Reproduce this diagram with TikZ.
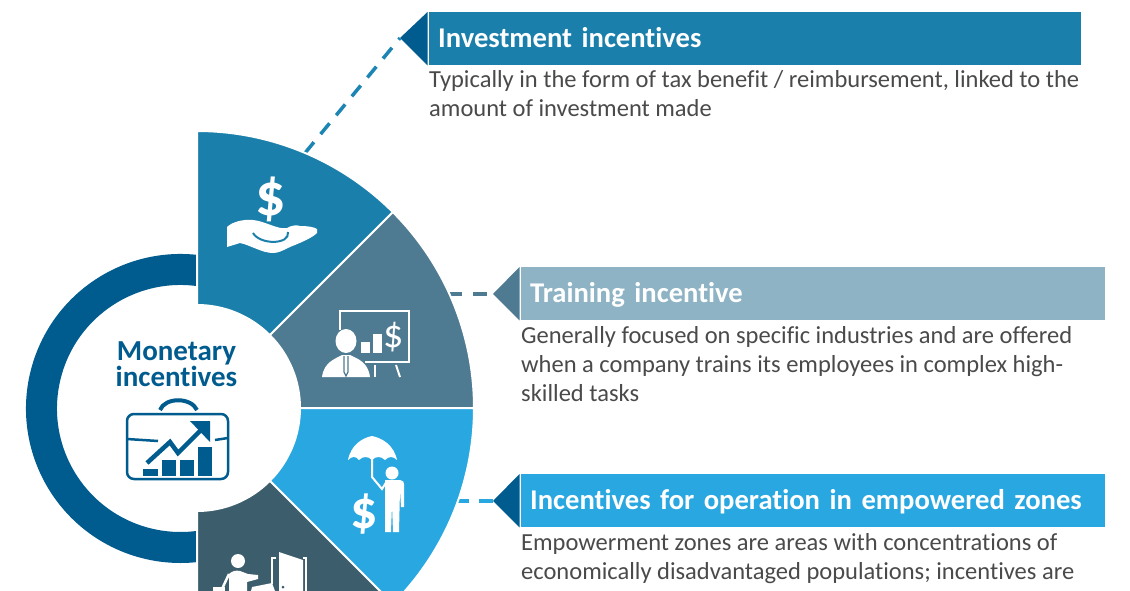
\documentclass[tikz,border=0pt]{standalone}
\usepackage{fontspec}
\setmainfont[RawFeature={-liga}]{Carlito}
\definecolor{ringblue}{HTML}{005B8F}
\definecolor{secA}{HTML}{1B7FAB}
\definecolor{secB}{HTML}{4E7B91}
\definecolor{secC}{HTML}{29A7E1}
\definecolor{secD}{HTML}{3C5D6C}
\definecolor{barB}{HTML}{8DB3C4}
\definecolor{bodygrey}{HTML}{4A4A4A}
\tikzset{
    headbar/.style={anchor=north west, text=white, font=\fontsize{28.6}{30}\selectfont\bfseries, minimum height=53, inner xsep=9, inner ysep=0, text height=18, text depth=0, text width=#1},
    bodytext/.style={anchor=north west, text=bodygrey, font=\fontsize{24.5}{29}\selectfont, align=left, inner sep=0},
    leader/.style={line width=3.5, dash pattern=on 14 off 10.5},
    iconline/.style={draw=white, line width=2, fill=none},
}
\begin{document}
\begin{tikzpicture}[x=1pt, y=-1pt]
    \useasboundingbox (0,0) rectangle (1130,591);
    \fill[white] (0,0) rectangle (1130,591);
    \clip (0,0) rectangle (1130,591);
    \coordinate (hub) at (197,408);
    % header bars
    \node[headbar=634, fill=secA] (invbar) at (429,12) {Investment incentives};
    \node[headbar=566, fill=barB] (trabar) at (521,267) {Training incentive};
    \node[headbar=566, fill=secC] (zonbar) at (521,474) {Incentives for operation in empowered zones};
    \coordinate (invtip) at (400,38);
    \coordinate (tratip) at (493,294);
    \coordinate (zontip) at (493,501);
    \coordinate (invend) at (305,153);
    \coordinate (traend) at (440,294);
    \coordinate (zonend) at (455,501);
    \fill[ringblue] ([xshift=-1.5]invbar.north west) -- ([xshift=-1.5]invbar.south west) -- (invtip) -- cycle;
    \fill[secB] ([xshift=-1.5]trabar.north west) -- ([xshift=-1.5]trabar.south west) -- (tratip) -- cycle;
    \fill[ringblue] ([xshift=-1.5]zonbar.north west) -- ([xshift=-1.5]zonbar.south west) -- (zontip) -- cycle;
    \draw[leader, secA!85!secC] (invend) -- (invtip);
    \draw[leader, secB, dash phase=18] (tratip) -- (traend);
    \draw[leader, secC] (zontip) -- (zonend);
    % body text
    \node[bodytext] (invtext) at (429,70) {Typically in the form of tax benefit / reimbursement, linked to the\\amount of investment made};
    \node[bodytext] (tratext) at (521,326) {Generally focused on specific industries and are offered\\when a company trains its employees in complex high-\\skilled tasks};
    \node[bodytext] (zontext) at (521,533) {Empowerment zones are areas with concentrations of\\economically disadvantaged populations; incentives are};
    % ring and sectors
    \draw[ringblue, line width=31] (180.5,408.5) ++(-75:139) arc [start angle=-75, end angle=-285, radius=139];
    \foreach \ang/\col in {-90/secA, -45/secB, 0/secC, 45/secD}
        \filldraw[fill=\col, draw=white, line width=2] ([shift={(\ang:103)}]hub) arc [start angle=\ang, end angle=\ang+45, radius=103] -- ([shift={(\ang+45:277)}]hub) arc [start angle=\ang+45, end angle=\ang, radius=277] -- cycle;
    % centre label
    \node[text=ringblue, font=\fontsize{29}{23}\selectfont\bfseries, align=center, inner sep=0] (hublabel) at (176.5,364) {Monetary\\incentives};
    % briefcase
    \draw[ringblue, line width=2.5, rounded corners=7] (127,414) rectangle (228,479);
    \draw[ringblue, line width=4] (160,410) .. controls (165,397) and (191,397) .. (197,410);
    \draw[ringblue, line width=2.5] (127,439) -- (158,441);
    \draw[ringblue, line width=2.5] (215,440) -- (228,438);
    \draw[ringblue, line width=4.5] (147,463) -- (170,442) -- (178,453) -- (206,425);
    \fill[ringblue] (190,421) -- (210,421) -- (210,442) -- cycle;
    \fill[ringblue] (143,469) rectangle (158,476);
    \fill[ringblue] (162,460) rectangle (176,476);
    \fill[ringblue] (180,460) rectangle (194,476);
    \fill[ringblue] (198,447) rectangle (212,476);
    % hand with coin
    \node[text=white, font=\fontsize{60}{60}\selectfont\bfseries, inner sep=0] (handcoin) at (271,199) {\$};
    \fill[white] (227,227) .. controls (232,222) and (243,219) .. (253,220) .. controls (265,221) and (278,230) .. (287,228) .. controls (292,225) and (297,225) .. (300,226) .. controls (308,226) and (314,227) .. (317,229) -- (317,233) .. controls (312,238) and (300,243) .. (290,247) .. controls (282,251) and (278,253) .. (273,253) .. controls (262,253) and (250,245) .. (240,243) -- (227,247) -- cycle;
    \draw[secA, line width=2] (253,233) .. controls (260,245) and (290,245) .. (288,232);
    % presenter and chart
    \draw[iconline] (340,330) -- (340,311) -- (409,311) -- (409,362) -- (365,362);
    \fill[white] (361,342) rectangle (370,353);
    \fill[white] (373,334) rectangle (382,353);
    \node[text=white, font=\fontsize{40}{40}\selectfont, inner sep=0] (chartcoin) at (394,337) {\$};
    \fill[white] (346,341) ellipse (10.5 and 12);
    \fill[white] (322,377) .. controls (324,362) and (335,359) .. (342,355) -- (350,355) .. controls (358,359) and (368,362) .. (370,377) -- cycle;
    \draw[secB, line width=1.2] (344,356) -- (344,372) -- (346,376) -- (348,372) -- (348,356);
    \draw[iconline] (375,365) -- (375,377);
    \draw[iconline] (396,365) -- (400,377);
    % umbrella figure
    \fill[white] (348,460) .. controls (351,445) and (362,438) .. (372,436) .. controls (382,438) and (394,445) .. (397,460) .. controls (393,456) and (389,456) .. (385,460) .. controls (381,456) and (376,456) .. (372,460) .. controls (368,456) and (363,456) .. (359,460) .. controls (356,456) and (352,456) .. (348,460) -- cycle;
    \draw[iconline] (372,458) -- (372,477) -- (382,489) -- (387,481);
    \fill[white] (392,473) circle (6.5);
    \fill[white] (385,480) -- (400,480) .. controls (403,480) and (404,482) .. (404,484) -- (404,507) -- (401,507) -- (400,490) -- (399,532) -- (393,532) -- (392,505) -- (391,532) -- (385,532) -- cycle;
    \node[text=white, font=\fontsize{54}{54}\selectfont\bfseries, inner sep=0] (zonecoin) at (364,514) {\$};
    % door and walker
    \fill[white] (238,561) circle (7);
    \fill[white] (229,591) -- (229,574) .. controls (232,571) and (236,570) .. (240,571) -- (248,574) -- (258,575) -- (258,579) -- (247,582) -- (247,591) -- cycle;
    \draw[white, line width=2.5] (229,574) -- (222,589);
    \fill[white] (213,587) rectangle (225,591);
    \fill[white] (251,591) -- (252,587) -- (272,583) -- (275,591) -- cycle;
    \fill[white] (279,552) -- (303,560) -- (303,591) -- (279,591) -- cycle;
    \draw[white, line width=1.8] (276,558) -- (272,558) -- (272,584);
    \draw[white, line width=1.8] (303,558) -- (306,558) -- (306,591);
    \fill[secD] (283,587) circle (1.5);
\end{tikzpicture}
\end{document}
